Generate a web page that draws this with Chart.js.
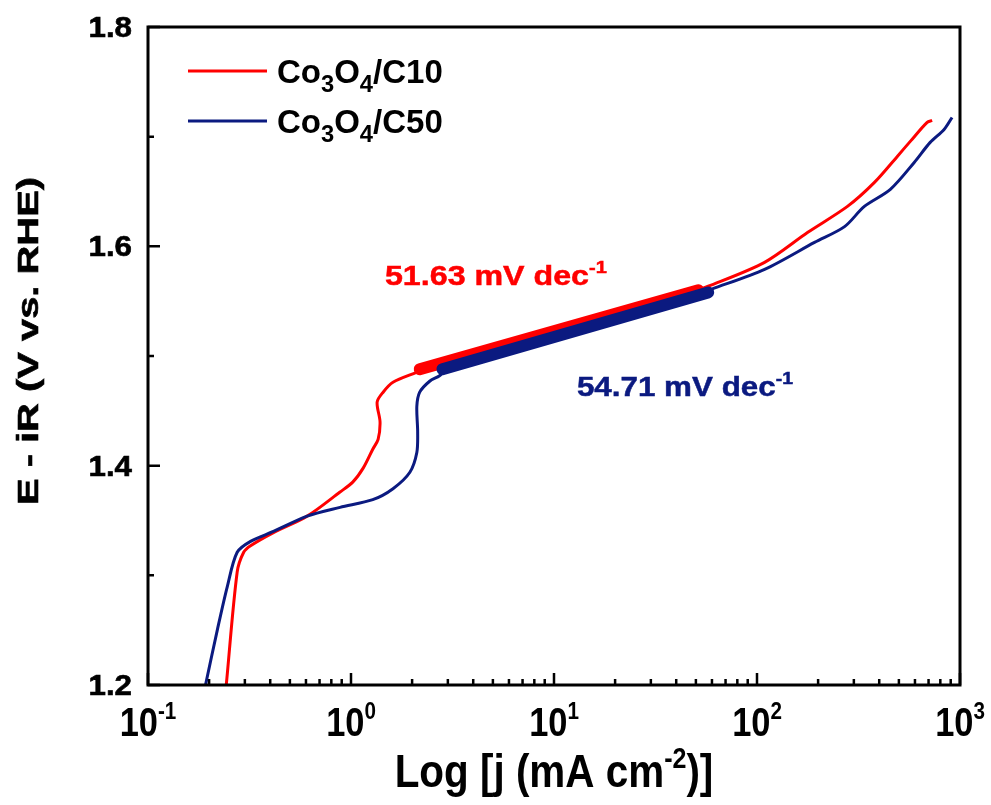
<!DOCTYPE html>
<html>
<head>
<meta charset="utf-8">
<script src="https://cdn.jsdelivr.net/npm/chart.js@4/dist/chart.umd.min.js"></script>
<style>
  html, body { margin: 0; padding: 0; background: #ffffff; }
  #wrap { width: 991px; height: 805px; }
</style>
</head>
<body>
<div id="wrap"><canvas id="c" width="991" height="805"></canvas></div>
<script>
// ---------------- data ----------------
const seriesLabels = ['Co_{3}O_{4}/C10', 'Co_{3}O_{4}/C50'];
const slopeLabels = ['51.63 mV dec^{-1}', '54.71 mV dec^{-1}'];

// Co3O4/C10 (red) : current density j (mA cm-2) and potential E (V vs. RHE)
const jC10 = [0.243, 0.275, 0.296, 0.320, 0.415, 0.608, 0.883, 1.02, 1.15, 1.28, 1.36, 1.39, 1.345, 1.44, 1.61, 2.10,
              2.6, 5.0, 10, 20, 40, 57.5, 109, 178, 279, 379, 491, 569, 689, 729];
const eC10 = [1.200, 1.303, 1.321, 1.327, 1.339, 1.354, 1.376, 1.385, 1.398, 1.415, 1.424, 1.440, 1.458, 1.467, 1.476, 1.485,
              1.492, 1.507, 1.523, 1.538, 1.553, 1.5636, 1.5854, 1.6128, 1.6364, 1.6583, 1.682, 1.6957, 1.713, 1.7148];

// Co3O4/C50 (navy)
const jC50 = [0.192, 0.220, 0.246, 0.275, 0.320, 0.415, 0.608, 0.883, 1.28, 1.61, 1.95, 2.11, 2.13, 2.11, 2.18, 2.44, 2.73,
              3.0, 5.0, 10, 20, 40, 59.5, 109, 192, 270, 338, 454, 595, 713, 835, 914];
const eC50 = [1.200, 1.251, 1.290, 1.321, 1.331, 1.340, 1.354, 1.362, 1.369, 1.379, 1.394, 1.412, 1.431, 1.454, 1.467, 1.477, 1.482,
              1.489, 1.501, 1.517, 1.533, 1.549, 1.5608, 1.579, 1.6036, 1.618, 1.6364, 1.652, 1.6765, 1.6948, 1.7066, 1.7175];

// Tafel fit segments (thick)
const fitC10J = [2.18, 51.4];
const fitC10E = [1.488, 1.560];
const fitC50J = [2.82, 57.5];
const fitC50E = [1.488, 1.558];

// axis ticks
const xTickValues = [0.1, 1, 10, 100, 1000];
const xTickLabels = ['10^{-1}', '10^{0}', '10^{1}', '10^{2}', '10^{3}'];
const yTickValues = [1.2, 1.4, 1.6, 1.8];
const yTickLabels = ['1.2', '1.4', '1.6', '1.8'];
const yMinorValues = [1.3, 1.5, 1.7];
const xTitle = 'Log [j (mA cm^{-2})]';
const yTitle = 'E - iR (V vs. RHE)';

// ---------------- styling ----------------
const RED = '#ff0000';
const NAVY = '#0b1a80';
const FONT = '"Liberation Sans", Arial, Helvetica, sans-serif';

function pts(js, es) { return js.map((v, i) => ({ x: v, y: es[i] })); }

function parseRich(s) {
  const out = [];
  const re = /([_^])\{([^}]*)\}|([^_^]+)/g;
  let m;
  while ((m = re.exec(s))) {
    if (m[3] !== undefined) out.push({ t: m[3], m: 0 });
    else out.push({ t: m[2], m: m[1] === '^' ? 1 : -1 });
  }
  return out;
}

function drawRich(ctx, s, x, y, o) {
  const f = o.size, sx = o.sx || 1, r = o.ratio || 0.65;
  const parts = parseRich(s);
  let w = 0;
  parts.forEach(p => {
    ctx.font = 'bold ' + (p.m ? f * r : f) + 'px ' + FONT;
    p.w = ctx.measureText(p.t).width;
    w += p.w;
  });
  ctx.save();
  ctx.translate(x, y);
  ctx.scale(sx, 1);
  ctx.fillStyle = o.color || '#000';
  ctx.strokeStyle = o.color || '#000';
  ctx.textBaseline = 'alphabetic';
  ctx.textAlign = 'left';
  let cx = o.align === 'center' ? -w / 2 : (o.align === 'right' ? -w : 0);
  parts.forEach(p => {
    ctx.font = 'bold ' + (p.m ? f * r : f) + 'px ' + FONT;
    const dy = p.m === 1 ? -f * (o.supOff || 0.42) : (p.m === -1 ? f * (o.subOff || 0.25) : 0);
    ctx.fillText(p.t, cx, dy);
    if (o.heavy) { ctx.lineWidth = o.heavy; ctx.strokeText(p.t, cx, dy); }
    cx += p.w;
  });
  ctx.restore();
}

const deco = {
  id: 'deco',
  afterDatasetsDraw(chart) {
    const { ctx, chartArea: a, scales: { x, y } } = chart;
    ctx.save();
    ctx.strokeStyle = '#000';
    ctx.lineCap = 'butt';
    // frame
    ctx.lineWidth = 3;
    ctx.strokeRect(a.left, a.top, a.right - a.left, a.bottom - a.top);
    // x ticks (inward)
    ctx.lineWidth = 2.5;
    ctx.beginPath();
    xTickValues.forEach(v => {
      const px = x.getPixelForValue(v);
      ctx.moveTo(px, a.bottom); ctx.lineTo(px, a.bottom - 12);
    });
    xTickValues.slice(0, -1).forEach(d => {
      for (let k = 2; k <= 9; k++) {
        const px = x.getPixelForValue(d * k);
        ctx.moveTo(px, a.bottom); ctx.lineTo(px, a.bottom - 6);
      }
    });
    // y ticks (inward)
    yTickValues.forEach(v => {
      const py = y.getPixelForValue(v);
      ctx.moveTo(a.left, py); ctx.lineTo(a.left + 12, py);
    });
    yMinorValues.forEach(v => {
      const py = y.getPixelForValue(v);
      ctx.moveTo(a.left, py); ctx.lineTo(a.left + 6, py);
    });
    ctx.stroke();
    ctx.restore();

    // tick labels
    xTickValues.forEach((v, i) => {
      drawRich(ctx, xTickLabels[i], x.getPixelForValue(v), 736,
        { size: 40, sx: 0.86, align: 'center', ratio: 0.6, supOff: 0.42 });
    });
    yTickValues.forEach((v, i) => {
      drawRich(ctx, yTickLabels[i], 132, y.getPixelForValue(v) + 10,
        { size: 29, sx: 1.08, align: 'right', heavy: 0.6 });
    });

    // axis titles
    drawRich(ctx, xTitle, (a.left + a.right) / 2, 787,
      { size: 47, sx: 0.86, align: 'center', ratio: 0.62, supOff: 0.4 });
    ctx.save();
    ctx.translate(38, 341);
    ctx.rotate(-Math.PI / 2);
    drawRich(ctx, yTitle, 0, 0, { size: 30, sx: 1.33, align: 'center', heavy: 0.6 });
    ctx.restore();

    // legend
    const legColors = [RED, NAVY];
    seriesLabels.forEach((lab, i) => {
      const ly = 71 + i * 50;
      ctx.save();
      ctx.strokeStyle = legColors[i];
      ctx.lineWidth = 3;
      ctx.beginPath();
      ctx.moveTo(188, ly); ctx.lineTo(267, ly);
      ctx.stroke();
      ctx.restore();
      drawRich(ctx, lab, 277, ly + 12, { size: 33, ratio: 0.72, subOff: 0.27 });
    });

    // slope annotations (anchored in data coordinates)
    drawRich(ctx, slopeLabels[0], x.getPixelForValue(1.47), y.getPixelForValue(1.5646),
      { size: 28, sx: 1.15, color: RED, ratio: 0.62, supOff: 0.45, heavy: 0.5 });
    drawRich(ctx, slopeLabels[1], x.getPixelForValue(12.97), y.getPixelForValue(1.4634),
      { size: 28, sx: 1.12, color: NAVY, ratio: 0.62, supOff: 0.45, heavy: 0.5 });
  }
};

new Chart(document.getElementById('c'), {
  type: 'line',
  data: {
    datasets: [
      { label: 'fit C50', data: pts(fitC50J, fitC50E), borderColor: NAVY, borderWidth: 12,
        borderCapStyle: 'round', pointRadius: 0, order: 0 },
      { label: 'fit C10', data: pts(fitC10J, fitC10E), borderColor: RED, borderWidth: 12,
        borderCapStyle: 'round', pointRadius: 0, order: 1 },
      { label: 'Co3O4/C50', data: pts(jC50, eC50), borderColor: NAVY, borderWidth: 3,
        pointRadius: 0, tension: 0.3, order: 2 },
      { label: 'Co3O4/C10', data: pts(jC10, eC10), borderColor: RED, borderWidth: 3,
        pointRadius: 0, tension: 0.3, order: 3 }
    ]
  },
  options: {
    responsive: false,
    animation: false,
    devicePixelRatio: 1,
    parsing: true,
    layout: { padding: { top: 27, right: 31, left: 0, bottom: 0 } },
    plugins: { legend: { display: false }, tooltip: { enabled: false } },
    scales: {
      x: {
        type: 'logarithmic', min: 0.1, max: 1000,
        ticks: { display: false }, grid: { display: false }, border: { display: false },
        afterFit(s) { s.height = 120; }
      },
      y: {
        type: 'linear', min: 1.2, max: 1.8,
        ticks: { display: false }, grid: { display: false }, border: { display: false },
        afterFit(s) { s.width = 148; }
      }
    }
  },
  plugins: [deco]
});
</script>
</body>
</html>
